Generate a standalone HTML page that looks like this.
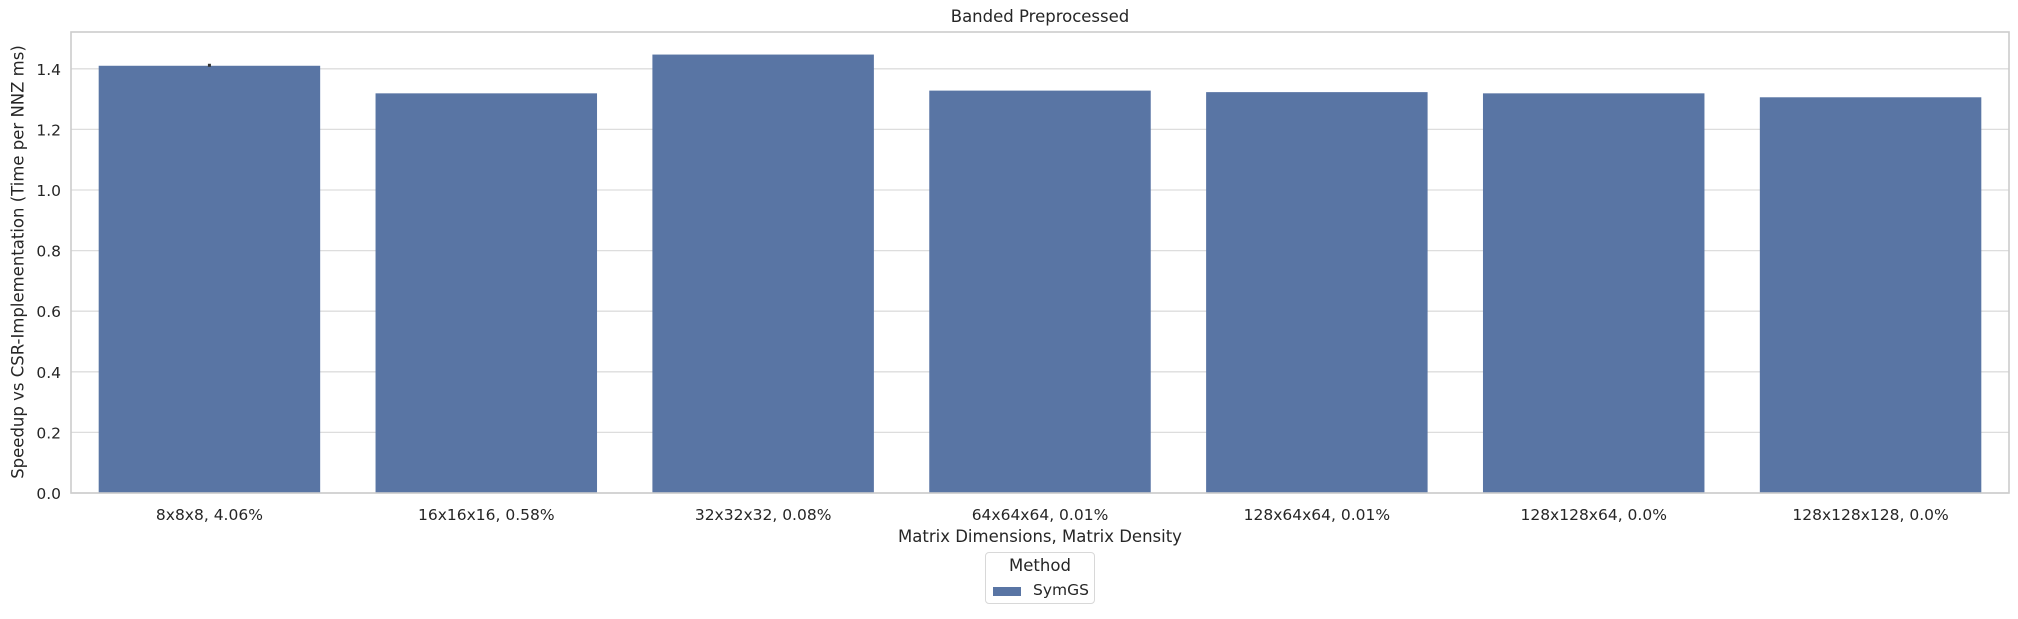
<!DOCTYPE html>
<html><head><meta charset="utf-8"><style>
body{margin:0;background:#fff;}
svg text{font-family:"DejaVu Sans","Liberation Sans",sans-serif;fill:#262626;}
</style></head><body>
<svg id="chart" width="2018" height="614" xmlns="http://www.w3.org/2000/svg">
<g id="grid"></g>
<g id="bars"></g>
<g id="axes"></g>
</svg>
<script>
const categories = ["8x8x8, 4.06%","16x16x16, 0.58%","32x32x32, 0.08%","64x64x64, 0.01%","128x64x64, 0.01%","128x128x64, 0.0%","128x128x128, 0.0%"];
const values = [1.41, 1.319, 1.447, 1.328, 1.323, 1.319, 1.306];
const yTicks = [0.0,0.2,0.4,0.6,0.8,1.0,1.2,1.4];
const yTickLabels = ["0.0","0.2","0.4","0.6","0.8","1.0","1.2","1.4"];

const L=71,R=2009,T=32,B=493;
const ns="http://www.w3.org/2000/svg";
const svg=document.getElementById('chart');
function y(v){return B-v*303;}
const band=(R-L)/categories.length;
function x(i){return L+band*i;}
function mk(tag,attrs,parent){const e=document.createElementNS(ns,tag);for(const k in attrs)e.setAttribute(k,attrs[k]);parent.appendChild(e);return e;}
const grid=document.getElementById('grid'),bars=document.getElementById('bars'),axes=document.getElementById('axes');

yTicks.forEach((t,i)=>{
  const g=mk('line',{x1:L,x2:R,y1:y(t),y2:y(t),stroke:'#dddddd','stroke-width':1.3},grid);
  
  
  const tx=mk('text',{x:L-10,y:y(t)+6,'text-anchor':'end','font-size':15.5},axes);
  tx.textContent=yTickLabels[i];
  
  
});
values.forEach((v,i)=>{
  const w=band*0.8;
  const r=mk('rect',{x:x(i)+band*0.1,y:y(v),width:w,height:B-y(v),fill:'#5975a4'},bars);
  
  
  const tx=mk('text',{x:x(i)+band/2,y:520,'text-anchor':'middle','font-size':15.5},axes);
  tx.textContent=categories[i];
  
  
});
const eb=mk('line',{x1:x(0)+band/2,x2:x(0)+band/2,y1:y(values[0])-2,y2:y(values[0])+1,stroke:'#333','stroke-width':3},bars);


const frame=mk('rect',{x:L,y:T,width:R-L,height:B-T,fill:'none',stroke:'#cccccc','stroke-width':1.6},axes);


</script>
<div style="position:absolute;left:0;top:0;width:2018px;height:614px;pointer-events:none;font-family:'DejaVu Sans','Liberation Sans',sans-serif;color:#262626;">
<div style="position:absolute;left:71px;width:1938px;top:7px;text-align:center;font-size:16.5px;">Banded Preprocessed</div>
<div style="position:absolute;left:71px;width:1938px;top:527px;text-align:center;font-size:16.5px;">Matrix Dimensions, Matrix Density</div>
<div style="position:absolute;left:18px;top:262px;transform:translate(-50%,-50%) rotate(-90deg);white-space:nowrap;font-size:16.5px;">Speedup vs CSR-Implementation (Time per NNZ ms)</div>
<div style="position:absolute;left:985px;top:552px;width:108px;height:50px;border:1px solid #d8d8d8;border-radius:4px;">
  <div style="position:absolute;left:0;width:108px;top:3px;text-align:center;font-size:16.5px;">Method</div>
  <div style="position:absolute;left:7px;top:34px;width:28px;height:9px;background:#5975a4;"></div>
  <div style="position:absolute;left:47px;top:28px;font-size:15.5px;">SymGS</div>
</div>
</div>
</body></html>
